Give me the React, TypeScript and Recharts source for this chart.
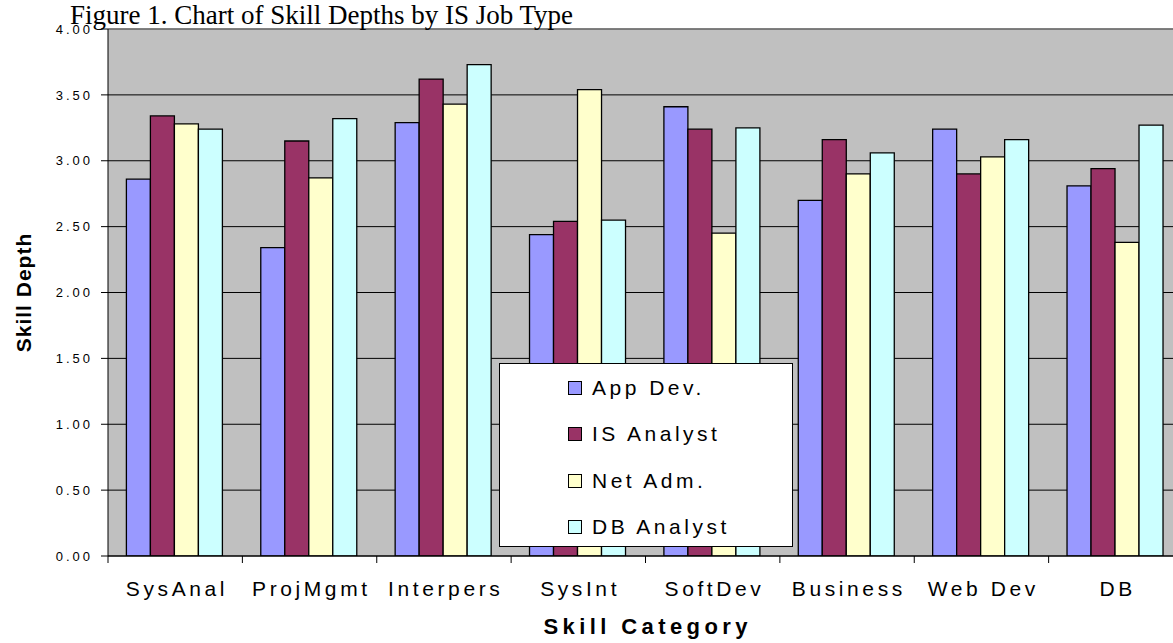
import React from 'react';
import { BarChart, Bar, XAxis, YAxis, CartesianGrid, Legend, ReferenceLine } from 'recharts';

const categories = ['SysAnal', 'ProjMgmt', 'Interpers', 'SysInt', 'SoftDev', 'Business', 'Web Dev', 'DB'];
const appDev = [2.86, 2.34, 3.29, 2.44, 3.41, 2.7, 3.24, 2.81];
const isAnalyst = [3.34, 3.15, 3.62, 2.54, 3.24, 3.16, 2.9, 2.94];
const netAdm = [3.28, 2.87, 3.43, 3.54, 2.45, 2.9, 3.03, 2.38];
const dbAnalyst = [3.24, 3.32, 3.73, 2.55, 3.25, 3.06, 3.16, 3.27];
const yTicks = [0, 0.5, 1, 1.5, 2, 2.5, 3, 3.5, 4];

const seriesKeys = ['appDev', 'isAnalyst', 'netAdm', 'dbAnalyst'];
const seriesNames = ['App Dev.', 'IS Analyst', 'Net Adm.', 'DB Analyst'];
const seriesColors = ['#9999FF', '#993366', '#FFFFCC', '#CCFFFF'];

const data = categories.map((c, i) => ({
  category: c,
  appDev: appDev[i],
  isAnalyst: isAnalyst[i],
  netAdm: netAdm[i],
  dbAnalyst: dbAnalyst[i],
}));

const CHART_W = 1183;
const CHART_H = 643;
const PLOT_LEFT = 108;
const SANS = '"Liberation Sans", Arial, sans-serif';
const SERIF = '"Liberation Serif", "Times New Roman", serif';
const HALF_BAND = (CHART_W - PLOT_LEFT) / categories.length / 2;

const XTick = (props: any) => {
  const { x, y, payload, index } = props;
  const ls = 3.6;
  return (
    <g>
      <line x1={x - HALF_BAND} x2={x - HALF_BAND} y1={y} y2={y + 7} stroke="#000" strokeWidth={1} />
      {index === categories.length - 1 && (
        <line x1={x + HALF_BAND} x2={x + HALF_BAND} y1={y} y2={y + 7} stroke="#000" strokeWidth={1} />
      )}
      <text
        x={x + ls / 2}
        y={y + 40}
        textAnchor="middle"
        fill="#000"
        style={{ fontFamily: SANS, fontSize: 21, letterSpacing: ls }}
      >
        {payload.value}
      </text>
    </g>
  );
};

const YTick = (props: any) => {
  const { x, y, payload } = props;
  return (
    <text
      x={x}
      y={y}
      dy="0.36em"
      textAnchor="end"
      fill="#000"
      style={{ fontFamily: SANS, fontSize: 13, letterSpacing: 3 }}
    >
      {Number(payload.value).toFixed(2)}
    </text>
  );
};

const YTitle = (props: any) => {
  const vb = props.viewBox || { x: 0, y: 29, width: 108, height: 527 };
  const cy = vb.y + vb.height / 2;
  const bx = 31;
  return (
    <text
      x={bx}
      y={cy}
      transform={`rotate(-90 ${bx} ${cy})`}
      textAnchor="middle"
      fill="#000"
      style={{ fontFamily: SANS, fontSize: 21, fontWeight: 700, letterSpacing: 1 }}
    >
      Skill Depth
    </text>
  );
};

const XTitle = (props: any) => {
  const vb = props.viewBox || { x: 108, y: 556, width: 1075, height: 87 };
  const cx = vb.x + vb.width / 2;
  const ls = 4.4;
  return (
    <text
      x={cx + ls / 2}
      y={634}
      textAnchor="middle"
      fill="#000"
      style={{ fontFamily: SANS, fontSize: 22, fontWeight: 700, letterSpacing: ls }}
    >
      Skill Category
    </text>
  );
};

const LegendBox = () => {
  return (
    <div
      style={{
        width: 294,
        height: 184,
        boxSizing: 'border-box',
        background: '#fff',
        border: '1px solid #000',
        position: 'relative',
      }}
    >
      {seriesNames.map((name, i) => (
        <div
          key={name}
          style={{
            position: 'absolute',
            left: 68,
            top: 24 + i * 46.3 - 12,
            height: 24,
            display: 'flex',
            alignItems: 'center',
          }}
        >
          <span
            style={{
              display: 'inline-block',
              width: 14,
              height: 14,
              boxSizing: 'border-box',
              background: seriesColors[i],
              border: '1.5px solid #000',
            }}
          />
          <span
            style={{
              marginLeft: 10,
              fontFamily: SANS,
              fontSize: 21,
              letterSpacing: 3.5,
              color: '#000',
              whiteSpace: 'nowrap',
              lineHeight: '24px',
            }}
          >
            {name}
          </span>
        </div>
      ))}
    </div>
  );
};

export default function App() {
  return (
    <div
      style={{
        position: 'fixed',
        left: 0,
        top: 0,
        width: 1173,
        height: 643,
        overflow: 'hidden',
        background: '#fff',
      }}
    >
      <BarChart
        width={CHART_W}
        height={CHART_H}
        data={data}
        margin={{ top: 29, right: 0, bottom: 0, left: 0 }}
        barCategoryGap={18.4}
        barGap={0}
      >
        <CartesianGrid vertical={false} stroke="#000" fill="#C0C0C0" fillOpacity={1} />
        <ReferenceLine y={4} stroke="#808080" strokeWidth={1.5} />
        <XAxis
          dataKey="category"
          interval={0}
          height={CHART_H - 556}
          tickLine={false}
          tickSize={0}
          tickMargin={0}
          axisLine={{ stroke: '#000' }}
          tick={(p: any) => <XTick {...p} />}
          label={(p: any) => <XTitle {...p} />}
        />
        <YAxis
          type="number"
          domain={[0, 4]}
          ticks={yTicks}
          width={PLOT_LEFT}
          interval={0}
          tickSize={7}
          tickMargin={8}
          tickLine={{ stroke: '#000' }}
          axisLine={{ stroke: '#000' }}
          tick={(p: any) => <YTick {...p} />}
          label={(p: any) => <YTitle {...p} />}
          allowDataOverflow
        />
        {seriesKeys.map((k, i) => (
          <Bar
            key={k}
            dataKey={k}
            name={seriesNames[i]}
            fill={seriesColors[i]}
            stroke="#000"
            strokeWidth={1.3}
            isAnimationActive={false}
          />
        ))}
        <Legend
          layout="horizontal"
          verticalAlign="middle"
          align="center"
          content={() => <LegendBox />}
          wrapperStyle={{ left: 499, top: 363, width: 294, height: 184 }}
        />
      </BarChart>
      <div
        style={{
          position: 'absolute',
          left: 70,
          top: 2,
          fontFamily: SERIF,
          fontSize: 27,
          lineHeight: '27px',
          color: '#000',
          whiteSpace: 'nowrap',
        }}
      >
        Figure 1. Chart of Skill Depths by IS Job Type
      </div>
    </div>
  );
}
